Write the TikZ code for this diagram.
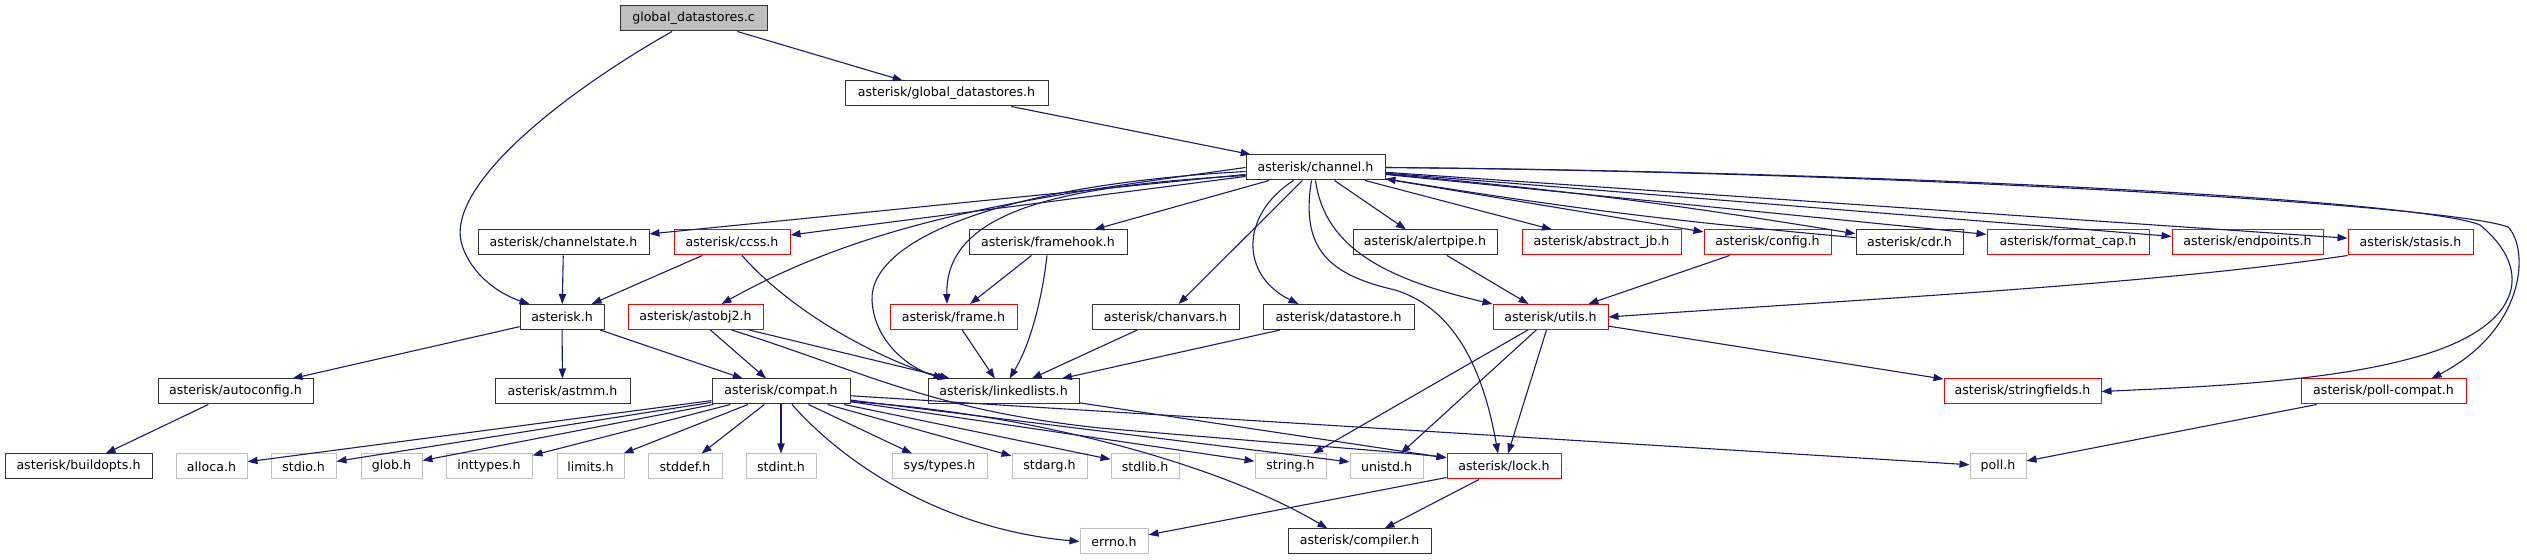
\documentclass[tikz,border=0pt]{standalone}
\usepackage{fontspec}
\newfontfamily\dxfont{DejaVu Sans}
\usepackage{tikz}
\usetikzlibrary{arrows.meta,calc,positioning}
\definecolor{edgeblue}{HTML}{191970}
\definecolor{sysgray}{HTML}{BFBFBF}
\definecolor{trunred}{HTML}{FF0000}
\definecolor{boxline}{HTML}{333333}

\begin{document}
\begin{tikzpicture}[x=0.5pt, y=-0.5pt,
    incbox/.style={draw=boxline, line width=0.5pt, rectangle, inner sep=0pt,
      minimum height=12.5pt, minimum width=#1*0.5pt,
      font=\dxfont\fontsize{6.3}{7}\selectfont},
    trunbox/.style={incbox=#1, draw=trunred},
    sysbox/.style={incbox=#1, draw=sysgray},
    rootbox/.style={incbox=#1, fill=sysgray},
    deparrow/.style={draw=edgeblue, line width=0.55pt,
      -{Triangle[length=5pt,width=3.6pt]}}]
  \useasboundingbox (0,0) rectangle (2527,560);
  % Source file and first includes
  \node[rootbox=147] (root) at (693.5,18.5) {global\_datastores.c};
  \node[incbox=203] (gdh) at (946.5,93.5) {asterisk/global\_datastores.h};
  \node[incbox=139] (channel) at (1315.5,167.5) {asterisk/channel.h};
  % Headers of channel.h
  \node[incbox=171] (channelstate) at (563.5,242.5) {asterisk/channelstate.h};
  \node[trunbox=116] (ccss) at (732,242.5) {asterisk/ccss.h};
  \node[incbox=158] (framehook) at (1048,242.5) {asterisk/framehook.h};
  \node[incbox=144] (alertpipe) at (1425,242.5) {asterisk/alertpipe.h};
  \node[trunbox=159] (abstractjb) at (1601.5,242.5) {asterisk/abstract\_jb.h};
  \node[trunbox=127] (config) at (1767.5,242.5) {asterisk/config.h};
  \node[incbox=107] (cdr) at (1909.5,242.5) {asterisk/cdr.h};
  \node[trunbox=162] (formatcap) at (2068,242.5) {asterisk/format\_cap.h};
  \node[trunbox=151] (endpoints) at (2247.5,242.5) {asterisk/endpoints.h};
  \node[trunbox=125] (stasis) at (2410.5,242.5) {asterisk/stasis.h};
  % Next level
  \node[incbox=84] (asteriskh) at (562,317) {asterisk.h};
  \node[trunbox=135] (astobj2) at (695.5,317) {asterisk/astobj2.h};
  \node[trunbox=127] (frame) at (953.5,317) {asterisk/frame.h};
  \node[incbox=147] (chanvars) at (1165.5,317) {asterisk/chanvars.h};
  \node[incbox=151] (datastore) at (1338.5,317) {asterisk/datastore.h};
  \node[trunbox=115] (utils) at (1550.5,317) {asterisk/utils.h};
  \node[incbox=155] (autoconfig) at (235.5,391.5) {asterisk/autoconfig.h};
  \node[incbox=135] (astmm) at (562.5,391.5) {asterisk/astmm.h};
  \node[incbox=138] (compat) at (781,391.5) {asterisk/compat.h};
  \node[incbox=151] (linkedlists) at (1003.5,391.5) {asterisk/linkedlists.h};
  \node[trunbox=157] (stringfields) at (2022.5,391.5) {asterisk/stringfields.h};
  \node[trunbox=165] (pollcompat) at (2383.5,391.5) {asterisk/poll-compat.h};
  % System headers and leaves
  \node[incbox=147] (buildopts) at (78.5,466.5) {asterisk/buildopts.h};
  \node[sysbox=71] (alloca) at (211.5,466.5) {alloca.h};
  \node[sysbox=65] (stdio) at (303.5,466.5) {stdio.h};
  \node[sysbox=61] (glob) at (391.5,466.5) {glob.h};
  \node[sysbox=86] (inttypes) at (489,466.5) {inttypes.h};
  \node[sysbox=67] (limits) at (590.5,466.5) {limits.h};
  \node[sysbox=74] (stddef) at (685,466.5) {stddef.h};
  \node[sysbox=70] (stdint) at (781,466.5) {stdint.h};
  \node[sysbox=95] (systypes) at (939.5,466.5) {sys/types.h};
  \node[sysbox=75] (stdarg) at (1049.5,466.5) {stdarg.h};
  \node[sysbox=68] (stdlib) at (1145,466.5) {stdlib.h};
  \node[sysbox=71] (string) at (1290.5,466.5) {string.h};
  \node[sysbox=73] (unistd) at (1386.5,466.5) {unistd.h};
  \node[trunbox=114] (lock) at (1504,466.5) {asterisk/lock.h};
  \node[sysbox=56] (poll) at (1998,466.5) {poll.h};
  \node[sysbox=68] (errno) at (1114,541.5) {errno.h};
  \node[incbox=143] (compiler) at (1359.5,541.5) {asterisk/compiler.h};

  % Edges from the source file
  \draw[deparrow] ($(root.south)+(-21.5,0)$) .. controls (560,95) and (440,190) .. (463,248)
    .. controls (475,280) and (505,296) .. ($(asteriskh.north west)+(10,0)$);
  \draw[deparrow] (root) -- (gdh);
  \draw[deparrow] (gdh) -- (channel);
  % Edges of channel.h
  \draw[deparrow] (channel) -- (channelstate);
  \draw[deparrow] (channel) -- (ccss);
  \draw[deparrow] (channel.west) .. controls (1050,195) and (880,215) .. ($(astobj2.north)+(26,0)$);
  \draw[deparrow] ($(channel.west)+(0,8)$) .. controls (1080,185) and (945,205) .. ($(frame.north)+(-6.5,0)$);
  \draw[deparrow] ($(channel.west)+(0,4)$) .. controls (1000,185) and (870,240) .. (872,300)
    .. controls (874,345) and (915,372) .. ($(linkedlists.north)+(-56,0)$);
  \draw[deparrow] (channel) -- (framehook);
  \draw[deparrow] (channel) -- (chanvars);
  \draw[deparrow] ($(channel.south)+(-22,0)$) .. controls (1240,215) and (1240,275) .. ($(datastore.north)+(-40,0)$);
  \draw[deparrow] ($(channel.south)+(-4,0)$) .. controls (1300,250) and (1330,275) .. (1395,290)
    .. controls (1460,310) and (1485,380) .. ($(lock.north)+(-6,0)$);
  \draw[deparrow] (channel.south) .. controls (1325,250) and (1390,280) .. (utils.north west);
  \draw[deparrow] (channel) -- (alertpipe);
  \draw[deparrow] (channel) -- (abstractjb);
  \draw[deparrow] (channel) -- (config);
  \draw[deparrow] (channel) to[bend left=2] (cdr);
  \draw[deparrow] (cdr) to[bend left=2] (channel);
  \draw[deparrow] (channel) -- (formatcap);
  \draw[deparrow] (channel) -- (endpoints);
  \draw[deparrow] (channel) -- (stasis);
  \draw[deparrow] (channel.east) .. controls (1900,172) and (2420,200) .. (2480,225)
    .. controls (2535,270) and (2525,330) .. (2405,360)
    .. controls (2320,382) and (2200,387) .. (stringfields.east);
  \draw[deparrow] (channel.east) .. controls (1900,172) and (2450,205) .. (2508,227)
    .. controls (2530,250) and (2525,330) .. ($(pollcompat.north)+(48,0)$);
  % Second level
  \draw[deparrow] (channelstate) -- (asteriskh);
  \draw[deparrow] (ccss) -- (asteriskh);
  \draw[deparrow] ($(ccss.south)+(10,0)$) .. controls (790,310) and (870,355) .. ($(linkedlists.north)+(-60,0)$);
  \draw[deparrow] (framehook) -- (frame);
  \draw[deparrow] ($(framehook.south)+(-1,0)$) .. controls (1042,300) and (1030,345) .. ($(linkedlists.north)+(6,0)$);
  \draw[deparrow] (frame) -- (linkedlists);
  \draw[deparrow] (chanvars) -- (linkedlists);
  \draw[deparrow] (datastore) -- (linkedlists);
  \draw[deparrow] (alertpipe) -- (utils);
  \draw[deparrow] (config) -- (utils);
  \draw[deparrow] (stasis.south west) .. controls (2150,285) and (1850,300) .. (utils.east);
  \draw[deparrow] (utils) -- (stringfields);
  \draw[deparrow] (utils) -- (string);
  \draw[deparrow] (utils) -- (unistd);
  \draw[deparrow] (utils) -- (lock);
  % asterisk.h and astobj2.h
  \draw[deparrow] (asteriskh) -- (autoconfig);
  \draw[deparrow] (asteriskh) -- (astmm);
  \draw[deparrow] (asteriskh) -- (compat);
  \draw[deparrow] (autoconfig) -- (buildopts);
  \draw[deparrow] (astobj2) -- (compat);
  \draw[deparrow] (astobj2) -- (linkedlists);
  \draw[deparrow] ($(astobj2.south)+(36,0)$) .. controls (860,370) and (930,410) .. (1100,428)
    .. controls (1300,445) and (1400,452) .. ($(lock.north west)+(0,4)$);
  % compat.h
  \draw[deparrow] (compat) -- (alloca);
  \draw[deparrow] (compat) -- (stdio);
  \draw[deparrow] (compat) -- (glob);
  \draw[deparrow] (compat) -- (inttypes);
  \draw[deparrow] (compat) -- (limits);
  \draw[deparrow] (compat) -- (stddef);
  \draw[deparrow] (compat) -- (stdint);
  \draw[deparrow] (compat) -- (systypes);
  \draw[deparrow] (compat) -- (stdarg);
  \draw[deparrow] (compat) -- (stdlib);
  \draw[deparrow] (compat) -- (string);
  \draw[deparrow] (compat) -- (unistd);
  \draw[deparrow] (compat) -- (poll);
  \draw[deparrow] ($(compat.south)+(11,0)$) .. controls (850,470) and (950,530) .. (errno.west);
  \draw[deparrow] ($(compat.east)+(0,10)$) .. controls (1050,415) and (1230,470) .. ($(compiler.north)+(-32,0)$);
  % lock.h and the rest
  \draw[deparrow] (linkedlists) -- (lock);
  \draw[deparrow] (lock) -- (errno);
  \draw[deparrow] (lock) -- (compiler);
  \draw[deparrow] (pollcompat) -- (poll);
\end{tikzpicture}
\end{document}
